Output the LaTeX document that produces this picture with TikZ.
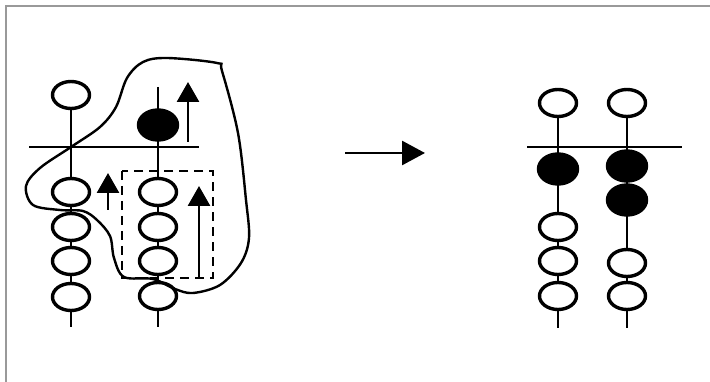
\documentclass[tikz,border=0pt]{standalone}
\usetikzlibrary{shapes.geometric,arrows.meta}
\begin{document}
\begin{tikzpicture}[x=1pt,y=-1pt,
  bead/.style={ellipse,draw=black,line width=3.4pt,fill=white,minimum width=37pt,minimum height=27pt,inner sep=0pt},
  blackbead/.style={bead,fill=black,minimum width=39pt,minimum height=30pt},
  rod/.style={line width=2.8pt,draw=black},
  beam/.style={line width=2.6pt,draw=black},
  uparrow/.style={line width=2.8pt,-{Triangle[width=22pt,length=20pt]}},
  bigarrow/.style={line width=2.8pt,-{Triangle[width=24pt,length=23pt]}},
  frameline/.style={draw=gray!80,line width=2pt}]
\useasboundingbox (0,0) rectangle (710,382);
\coordinate (fa) at (5.5,382);
\coordinate (fb) at (5.5,6.5);
\coordinate (fc) at (710,6.5);
\draw[frameline] (fa) -- (fb) -- (fc);

% ---------- left abacus ----------
\coordinate (lrodAbot) at (71,327);
\coordinate (lrodBtop) at (158,87);
\coordinate (lrodBbot) at (158,327);
\coordinate (lbeamL) at (29,147);
\coordinate (lbeamR) at (199,147);
\node[bead] (la0) at (71,95) {};
\draw[rod] (la0.south) -- (lrodAbot);
\draw[rod] (lrodBtop) -- (lrodBbot);
\draw[beam] (lbeamL) -- (lbeamR);
\node[bead] (la1) at (71,192) {};
\node[bead] (la2) at (71,227) {};
\node[bead] (la3) at (71,261) {};
\node[bead] (la4) at (71,297) {};
\node[blackbead] (lb0) at (158,125) {};
\node[bead] (lb1) at (158,192) {};
\node[bead] (lb2) at (158,227) {};
\node[bead] (lb3) at (158,261) {};
\node[bead] (lb4) at (158,296) {};

% arrows
\coordinate (a1s) at (188,142); \coordinate (a1e) at (188,82);
\coordinate (a2s) at (108,210); \coordinate (a2e) at (108,173);
\coordinate (a3s) at (199,278); \coordinate (a3e) at (199,186);
\draw[uparrow] (a1s) -- (a1e);
\draw[uparrow] (a2s) -- (a2e);
\draw[uparrow] (a3s) -- (a3e);

% dashed box
\coordinate (dbA) at (122,171);
\coordinate (dbB) at (213,278);
\draw[line width=2.6pt,dash pattern=on 9pt off 6pt] (dbA) rectangle (dbB);

% closed curve
\draw[line width=2.4pt,smooth cycle,tension=0.55] plot coordinates {
 (71,147) (100,127) (116,107) (127,78) (143,62) (167,58) (217,63) (222,71)
 (238,133) (246,200) (249,238) (241,263) (220,285) (193,293) (175,289)
 (153,279) (124,277) (114,258) (110,236) (97,220) (83,211) (60,210)
 (33,205) (26,186) (40,168)};

% ---------- middle arrow ----------
\coordinate (maS) at (345,153);
\coordinate (maE) at (425,153);
\draw[bigarrow] (maS) -- (maE);

% ---------- right abacus ----------
\coordinate (rrodAbot) at (558,328);
\coordinate (rrodBbot) at (627,328);
\coordinate (rbeamL) at (527,147);
\coordinate (rbeamR) at (682,147);
\node[bead] (ra0) at (558,103) {};
\node[bead] (rb0) at (627,103) {};
\draw[rod] (ra0.south) -- (rrodAbot);
\draw[rod] (rb0.south) -- (rrodBbot);
\draw[beam] (rbeamL) -- (rbeamR);
\node[blackbead] (ra1) at (558,169) {};
\node[bead] (ra2) at (558,227) {};
\node[bead] (ra3) at (558,261) {};
\node[bead] (ra4) at (558,296) {};
\node[blackbead] (rb1) at (627,166) {};
\node[blackbead] (rb2) at (627,200) {};
\node[bead] (rb3) at (627,263) {};
\node[bead] (rb4) at (627,296) {};
\end{tikzpicture}
\end{document}
